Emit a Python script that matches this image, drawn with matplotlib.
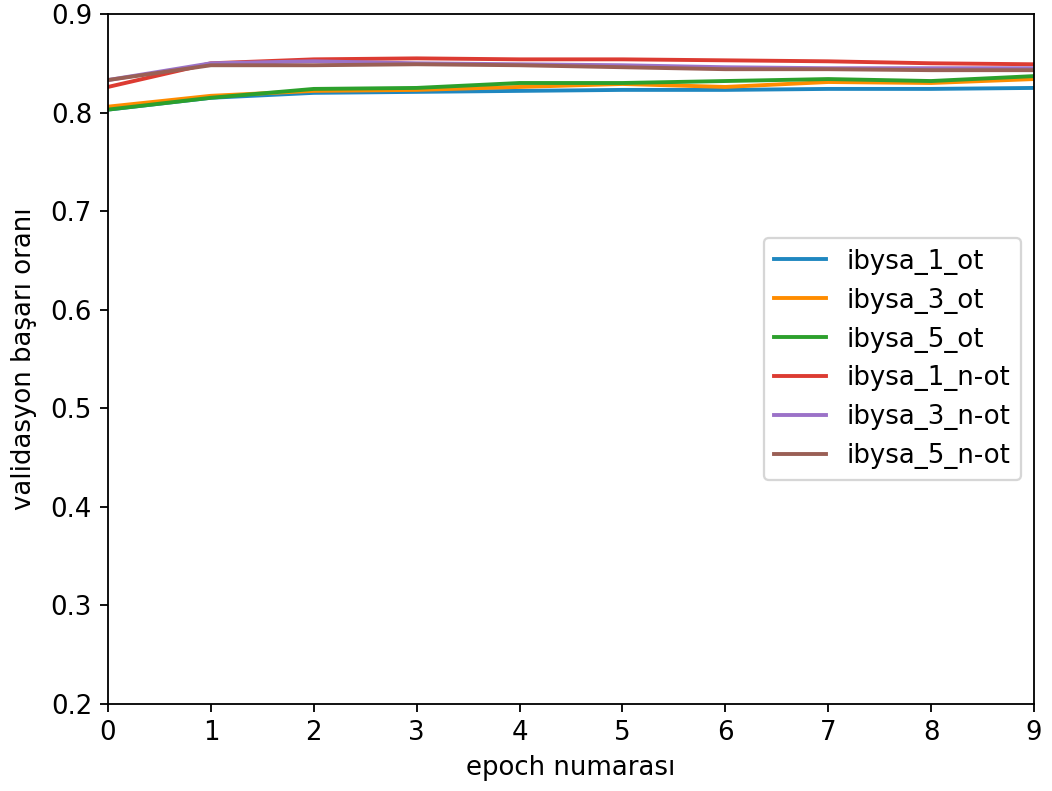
import matplotlib
matplotlib.use("Agg")
import matplotlib.pyplot as plt

epochs = list(range(10))
ibysa_1_ot = [0.803, 0.815, 0.820, 0.821, 0.822, 0.823, 0.823, 0.824, 0.824, 0.825]
ibysa_3_ot = [0.806, 0.817, 0.822, 0.823, 0.826, 0.829, 0.826, 0.831, 0.830, 0.834]
ibysa_5_ot = [0.803, 0.815, 0.824, 0.825, 0.830, 0.830, 0.832, 0.834, 0.832, 0.837]
ibysa_1_not = [0.826, 0.850, 0.854, 0.855, 0.854, 0.854, 0.853, 0.852, 0.850, 0.849]
ibysa_3_not = [0.833, 0.850, 0.852, 0.850, 0.849, 0.848, 0.846, 0.845, 0.845, 0.845]
ibysa_5_not = [0.833, 0.848, 0.848, 0.849, 0.848, 0.846, 0.844, 0.844, 0.843, 0.843]

series = [
    ("ibysa_1_ot", ibysa_1_ot, "#1f87c0"),
    ("ibysa_3_ot", ibysa_3_ot, "#ff8c00"),
    ("ibysa_5_ot", ibysa_5_ot, "#2ca02c"),
    ("ibysa_1_n-ot", ibysa_1_not, "#dc3b32"),
    ("ibysa_3_n-ot", ibysa_3_not, "#9b72c8"),
    ("ibysa_5_n-ot", ibysa_5_not, "#9a5f55"),
]

plt.rcParams["font.size"] = 11.4

fig = plt.figure(figsize=(1052 / 164, 791 / 164), dpi=164)
ax = fig.add_axes([108 / 1052, 1 - 704 / 791, (1034 - 108) / 1052, (704 - 14) / 791])
for name, vals, color in series:
    ax.plot(epochs, vals, label=name, color=color, linewidth=1.7)

ax.set_xlim(0, 9)
ax.set_ylim(0.2, 0.9)
ax.set_xticks(epochs)
ax.set_xlabel("epoch numarası")
ax.set_ylabel("validasyon başarı oranı", labelpad=6)
ax.legend(loc="center right")
fig.savefig("out.png", dpi=164)
